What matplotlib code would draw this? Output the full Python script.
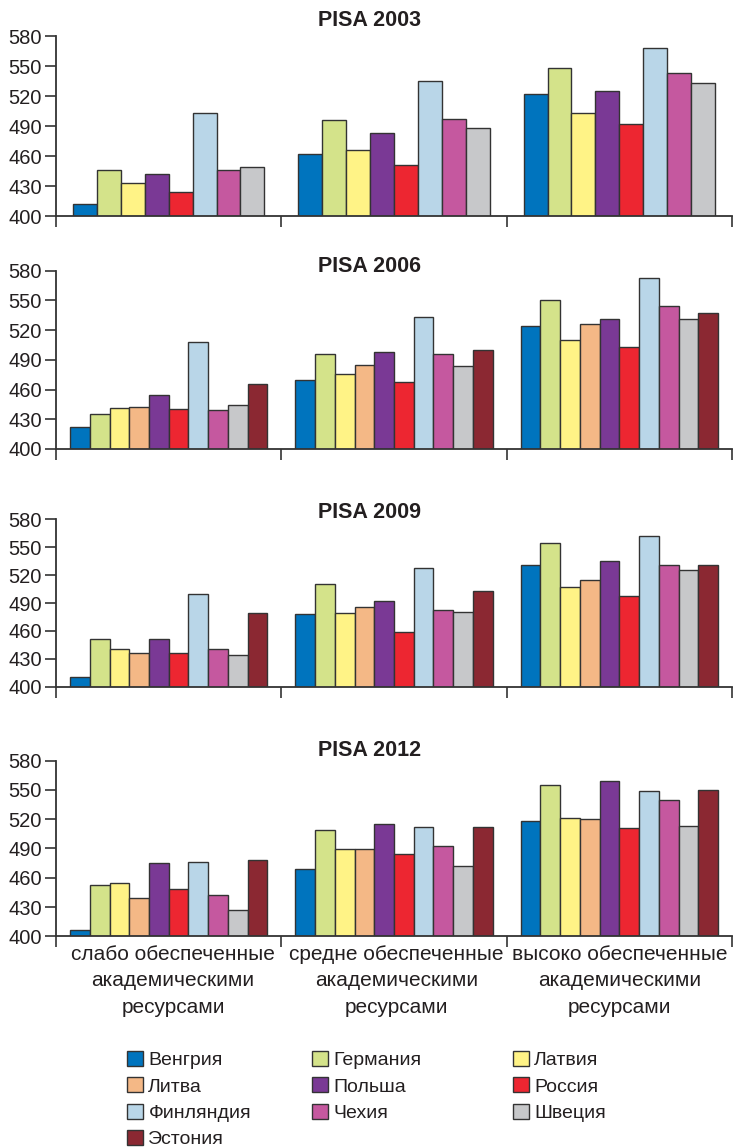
import matplotlib
matplotlib.use('Agg')
from matplotlib import pyplot as plt
from matplotlib.patches import Patch

plt.rcParams['font.family'] = ['Liberation Sans', 'DejaVu Sans']

countries = ['Венгрия', 'Германия', 'Латвия', 'Литва', 'Польша',
             'Россия', 'Финляндия', 'Чехия', 'Швеция', 'Эстония']
colors = ['#0074be', '#d4e38a', '#fff386', '#f4b886', '#7a3995',
          '#ed2631', '#b9d6e8', '#c5589f', '#c7c8ca', '#8b2832']

groups = ['слабо обеспеченные\nакадемическими\nресурсами',
          'средне обеспеченные\nакадемическими\nресурсами',
          'высоко обеспеченные\nакадемическими\nресурсами']

years = ['PISA 2003', 'PISA 2006', 'PISA 2009', 'PISA 2012']

# scores per country: [low, mid, high]; countries missing in 2003 are absent
countries_2003 = ['Венгрия', 'Германия', 'Латвия', 'Польша',
                  'Россия', 'Финляндия', 'Чехия', 'Швеция']
scores_2003 = [[412, 462, 522], [446, 496, 548], [433, 466, 503], [442, 483, 525],
               [424, 451, 492], [503, 535, 568], [446, 497, 543], [449, 488, 533]]

countries_2006 = countries
scores_2006 = [[422, 470, 524], [435, 496, 550], [441, 476, 510], [442, 485, 526],
               [454, 498, 531], [440, 468, 503], [508, 533, 573], [439, 496, 544],
               [444, 484, 531], [466, 500, 537]]

countries_2009 = countries
scores_2009 = [[411, 478, 531], [451, 510, 555], [441, 479, 507], [436, 486, 515],
               [451, 492, 535], [436, 459, 498], [500, 528, 562], [441, 483, 531],
               [434, 480, 525], [479, 503, 531]]

countries_2012 = countries
scores_2012 = [[406, 469, 518], [453, 509, 555], [455, 489, 521], [439, 489, 520],
               [475, 515, 559], [448, 484, 511], [476, 512, 549], [442, 493, 540],
               [427, 472, 513], [478, 512, 550]]

panels = [(countries_2003, scores_2003), (countries_2006, scores_2006),
          (countries_2009, scores_2009), (countries_2012, scores_2012)]

# axes boxes in figure fractions (left, bottom, width, height)
boxes = [(0.0763, 0.8118, 0.921, 0.1568),
         (0.0763, 0.6089, 0.921, 0.1553),
         (0.0763, 0.4018, 0.921, 0.1458),
         (0.0763, 0.1844, 0.921, 0.1530)]
title_y = [20, 266, 512, 750]

edge = '#333333'

fig = plt.figure(figsize=(7.34, 11.48), dpi=100)

for k, (names, scores) in enumerate(panels):
    ax = fig.add_axes(boxes[k])
    n = len(names)
    w = 0.85 / n if n == 8 else 0.875 / n
    for i, name in enumerate(names):
        c = colors[countries.index(name)]
        xs = [g + (i - (n - 1) / 2) * w for g in range(3)]
        ax.bar(xs, scores[i], width=w, bottom=0, color=c,
               edgecolor=edge, linewidth=1.0)

    ax.set_ylim(400, 580)
    ax.set_xlim(-0.5, 2.5)
    ax.set_yticks(range(400, 581, 30))
    ax.tick_params(axis='y', labelsize=14.5, length=8, width=1.2,
                   color=edge, labelcolor='#231f20', pad=2)
    ax.set_xticks([-0.5, 0.5, 1.5, 2.5])
    ax.set_xticklabels([])
    ax.tick_params(axis='x', which='major', length=8, width=1.2, color=edge)
    ax.set_xticks([0.02, 1.01, 2.0], minor=True)
    if k == 3:
        ax.set_xticklabels(groups, minor=True, fontsize=15,
                           color='#231f20', linespacing=1.5)
    ax.tick_params(axis='x', which='minor', length=0, pad=6)
    for s in ['top', 'right']:
        ax.spines[s].set_visible(False)
    for s in ['left', 'bottom']:
        ax.spines[s].set_color(edge)
        ax.spines[s].set_linewidth(1.3)
    fig.text(370 / 734, 1 - title_y[k] / 1148, years[k], ha='center',
             va='center', fontsize=15.5, fontweight='bold', color='#231f20')

# legend: three columns filled row by row
col_x = [127, 312, 513]
for c in range(3):
    idx = list(range(c, len(countries), 3))
    handles = [Patch(facecolor=colors[i], edgecolor=edge, linewidth=1.0) for i in idx]
    fig.legend(handles, [countries[i] for i in idx], loc='upper left',
               bbox_to_anchor=(col_x[c] / 734, 1 - 1051 / 1148),
               frameon=False, fontsize=14, handlelength=0.8, handleheight=0.8,
               handletextpad=0.3, labelspacing=0.42, borderpad=0, borderaxespad=0,
               labelcolor='#231f20')

plt.savefig('out.png', dpi=100)
